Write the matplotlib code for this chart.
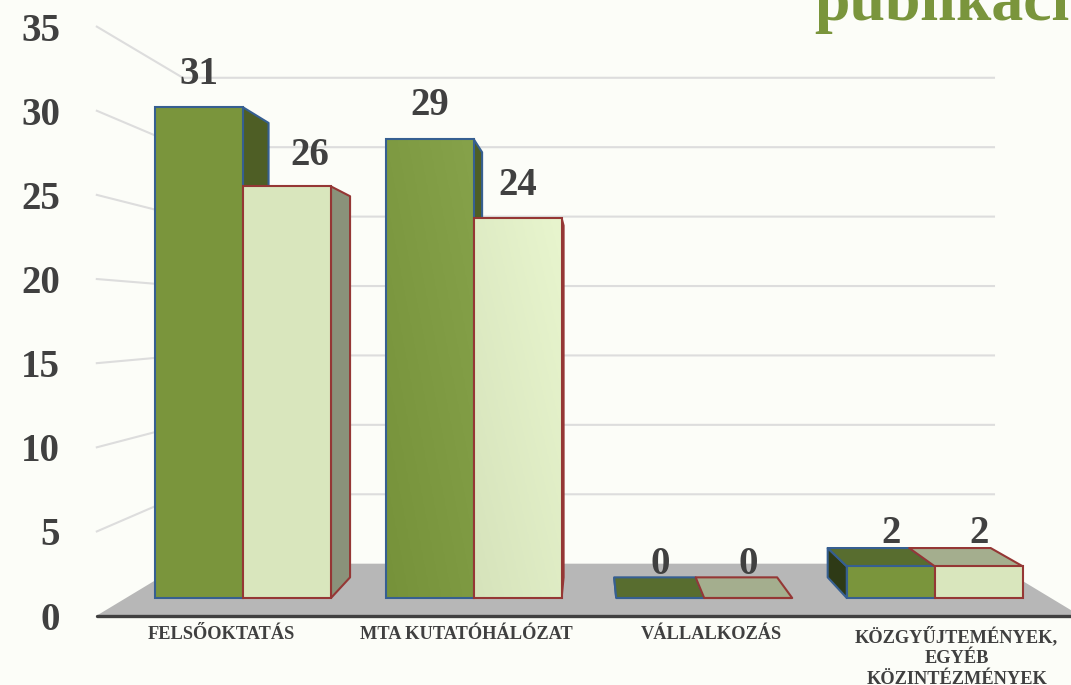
import matplotlib
matplotlib.use('Agg')
import matplotlib.pyplot as plt
import numpy as np

categories = ['FELSŐOKTATÁS', 'MTA KUTATÓHÁLÓZAT', 'VÁLLALKOZÁS',
              'KÖZGYŰJTEMÉNYEK,\nEGYÉB\nKÖZINTÉZMÉNYEK']
series_a = [31, 29, 0, 2]
series_b = [26, 24, 0, 2]
y_ticks = [0, 5, 10, 15, 20, 25, 30, 35]

W, H = 1071, 685
PX_X = 88.0    # pixels per bar width
PX_Y = 15.83   # pixels per value unit on the bars' front plane
STEP = 230.6 / PX_X

# perspective: everything scales about a vanishing point
VX, VY = 345.5 / PX_X, 279 / PX_Y
S_AXIS, S_BACK, S_WALL = 1.063, 0.926, 0.877
WALL_L, WALL_R = -1.33, 9.18

BG = '#FCFDF8'
TEXT = '#404040'
SERIF = 'Liberation Serif'


def proj(x, v, s):
    return VX + (x - VX) * s, VY + (v - VY) * s


def face(ax, pts, color, edge, z):
    xs, ys = zip(*pts)
    ax.fill(xs, ys, facecolor=color, edgecolor=edge, linewidth=1.5, joinstyle='round', zorder=z)


def gradient(ax, bar, c0, c1):
    # soft diagonal shading on a front face
    x0, y0 = bar.get_x(), bar.get_y()
    g = np.add.outer(np.linspace(0, 1, 40), np.linspace(0, 1, 40)) / 2
    rgb0, rgb1 = np.array(matplotlib.colors.to_rgb(c0)), np.array(matplotlib.colors.to_rgb(c1))
    img = rgb0 + g[..., None] * (rgb1 - rgb0)
    im = ax.imshow(img, origin='lower', aspect='auto', zorder=bar.get_zorder() - 0.05,
                   extent=(x0, x0 + bar.get_width(), y0, y0 + bar.get_height()))
    im.set_clip_path(bar)


fig = plt.figure(figsize=(W / 100, H / 100), dpi=100, facecolor=BG)
ax = fig.add_axes([0, 0, 1, 1])
ax.axis('off')

# floor
floor = [proj(WALL_L, 0, S_AXIS), proj(WALL_R, 0, S_AXIS), proj(WALL_R, 0, S_WALL), proj(WALL_L, 0, S_WALL)]
ax.fill(*zip(*floor), color='#B7B7B7', linewidth=0, zorder=1)

# gridlines on the back wall and on the left wall
for v in y_ticks[1:]:
    x0, y0 = proj(WALL_L, v, S_AXIS)
    x1, y1 = proj(WALL_L, v, S_WALL)
    x2, y2 = proj(WALL_R, v, S_WALL)
    ax.plot([x0, x1, x2], [y0, y1, y2], color='#DDDDDD', lw=1.5, zorder=2, solid_joinstyle='miter')

# axis line, runs off the right edge
x0, y0 = proj(WALL_L, 0, S_AXIS)
ax.plot([x0, 12], [y0, y0], color=TEXT, lw=2.4, zorder=3, solid_capstyle='round')

styles = [
    dict(vals=series_a, front='#7A953C', side='#4E5E25', top='#586D2F', left='#2E3A16', edge='#365F91'),
    dict(vals=series_b, front='#D9E6BD', side='#8A927A', top='#A4AE8E', left=None, edge='#953735'),
]

for j, st in enumerate(styles):
    z = 5 + 2 * j
    xs = np.arange(len(categories)) * STEP + j - 1
    bars = ax.bar(xs, st['vals'], width=1.0, align='edge', color=st['front'], edgecolor=st['edge'],
                  linewidth=1.5, zorder=z + 0.5)
    for x, v, bar in zip(xs, st['vals'], bars):
        if x + 1 < VX:
            face(ax, [proj(x + 1, 0, 1), proj(x + 1, v, 1), proj(x + 1, v, S_BACK), proj(x + 1, 0, S_BACK)],
                 st['side'], st['edge'], z)
        elif x > VX and st['left']:
            face(ax, [proj(x, 0, 1), proj(x, v, 1), proj(x, v, S_BACK), proj(x, 0, S_BACK)],
                 st['left'], st['edge'], z)
        if v < VY:
            face(ax, [proj(x, v, 1), proj(x + 1, v, 1), proj(x + 1, v, S_BACK), proj(x, v, S_BACK)],
                 st['top'], st['edge'], z)

    # second category has a little shading
    bars[1].set_facecolor('none')
    if j == 0:
        gradient(ax, bars[1], '#76923A', '#86A24A')
    else:
        gradient(ax, bars[1], '#D6E3BB', '#E8F5CE')

    for i, (x, v) in enumerate(zip(xs, st['vals'])):
        dx = 23 if (j == 1 and i == 0) else 0
        dy = 35 if (j == 1 and i == 0) else 37.5
        ax.annotate(str(v), (x + 0.5, v), xytext=(dx * 0.72, dy * 0.72), textcoords='offset points',
                    ha='center', va='center_baseline', fontsize=28, fontweight='bold', family=SERIF,
                    color=TEXT, zorder=20)

# value axis labels
for v in y_ticks:
    x, y = proj(WALL_L, v, S_AXIS)
    ax.text((60 - 243) / PX_X, y, str(v), ha='right', va='center_baseline', fontsize=28, fontweight='bold',
            family=SERIF, color=TEXT, zorder=20)

# category labels
for i, c in enumerate(categories):
    x, y = proj(i * STEP, 0, S_AXIS)
    ax.annotate(c, (x, y), xytext=(0, -7.6), textcoords='offset points', ha='center', va='top',
                fontsize=13.2, fontweight='bold', family=SERIF, color=TEXT, linespacing=1.3, zorder=20)

# piece of the slide title that falls into the crop
ax.text((814 - 243) / PX_X, (598 - 20) / PX_Y, 'publikáci', ha='left', va='baseline', fontsize=46,
        fontweight='bold', family=SERIF, color='#7A953C', zorder=20)

ax.set_xlim(-243 / PX_X, (W - 243) / PX_X)
ax.set_ylim((598 - H) / PX_Y, 598 / PX_Y)

fig.savefig('out.png', dpi=100, facecolor=BG)
